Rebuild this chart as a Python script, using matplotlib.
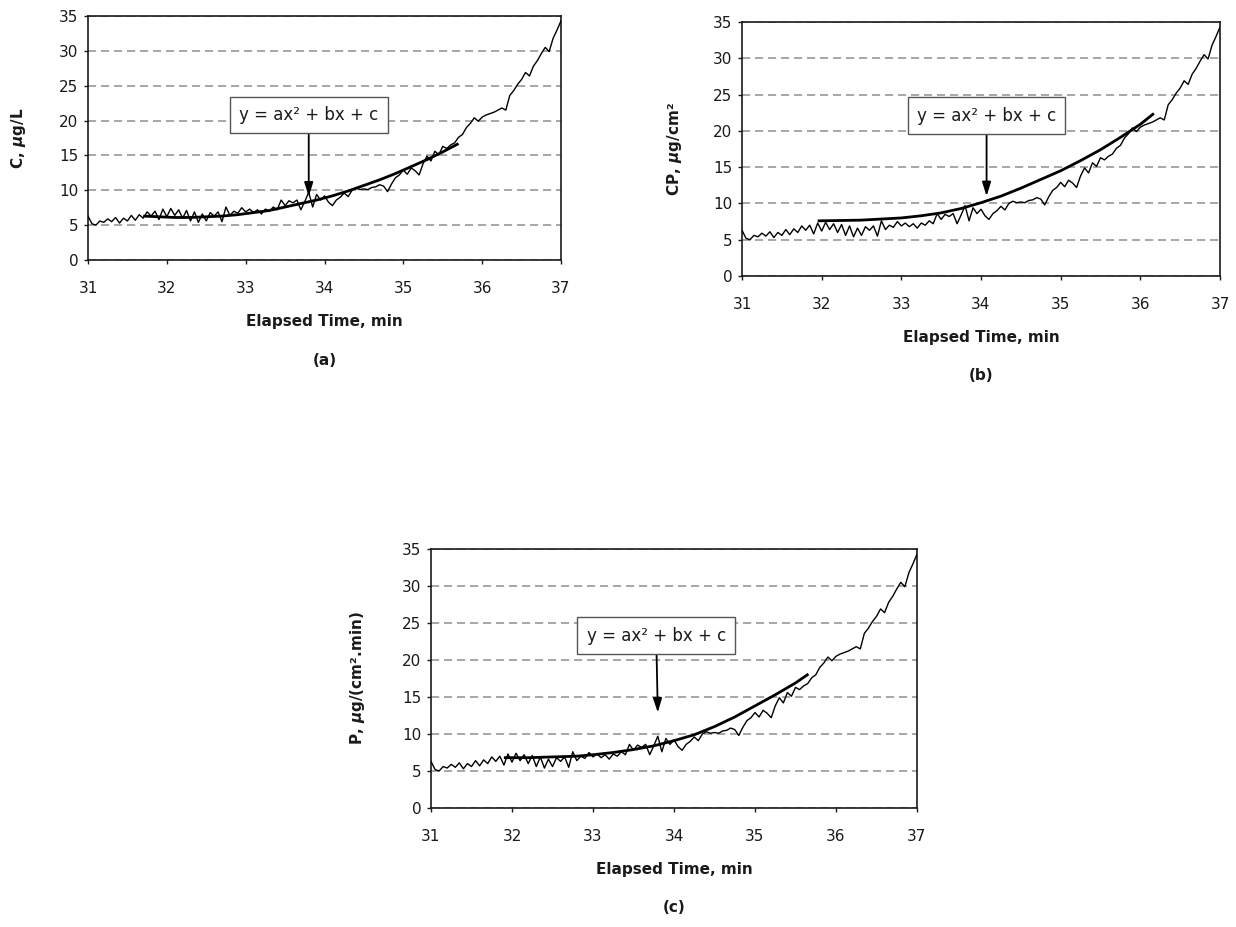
import numpy as np
import matplotlib
matplotlib.use("Agg")
from matplotlib import pyplot as plt

DPI = 100
W, H = 1236, 927

# elapsed time, min - the trace is sampled every 0.05 min
elapsed = np.linspace(31.0, 37.0, 121)

signal = [
    6.3, 5.2, 5.0, 5.6, 5.4, 5.9, 5.5, 6.1, 5.3, 6.0,             # 31.00-31.45
    5.6, 6.4, 5.7, 6.5, 6.0, 6.9, 6.3, 7.0, 5.8, 7.3,             # 31.50-31.95
    6.2, 7.4, 6.4, 7.2, 6.0, 7.1, 5.6, 6.9, 5.4, 6.6,             # 32.00-32.45
    5.6, 6.8, 6.3, 6.9, 5.5, 7.6, 6.4, 7.0, 6.7, 7.5,             # 32.50-32.95
    6.9, 7.3, 6.8, 7.2, 6.6, 7.3, 7.0, 7.6, 7.2, 8.6,             # 33.00-33.45
    7.8, 8.5, 8.2, 8.6, 7.2, 8.4, 9.7, 7.6, 9.4, 8.6,             # 33.50-33.95
    9.2, 8.3, 7.8, 8.6, 9.0, 9.6, 9.1, 10.0, 10.3, 10.1,          # 34.00-34.45
    10.2, 10.1, 10.4, 10.5, 10.8, 10.6, 9.8, 10.9, 11.8, 12.2,    # 34.50-34.95
    12.9, 12.3, 13.2, 12.8, 12.2, 13.8, 14.9, 14.2, 15.6, 15.1,   # 35.00-35.45
    16.3, 16.0, 16.5, 16.8, 17.6, 18.0, 19.0, 19.6, 20.4, 19.9,   # 35.50-35.95
    20.5, 20.8, 21.0, 21.2, 21.5, 21.8, 21.5, 23.6, 24.3, 25.2,   # 36.00-36.45
    25.9, 26.9, 26.4, 27.8, 28.6, 29.6, 30.5, 29.9, 31.8, 33.0,   # 36.50-36.95
    34.3,                                                         # 37.00
]

# quadratic trend lines
fit_a_t = [31.7, 31.9, 32.1, 32.3, 32.5, 32.7, 32.9, 33.1, 33.3, 33.5, 33.7,
           33.9, 34.1, 34.3, 34.5, 34.7, 34.9, 35.1, 35.3, 35.5, 35.7]
fit_a = [6.3, 6.2, 6.1, 6.1, 6.2, 6.3, 6.5, 6.8, 7.1, 7.6, 8.1,
         8.6, 9.2, 9.9, 10.7, 11.5, 12.4, 13.4, 14.4, 15.5, 16.7]

fit_b_t = [31.95, 32.25, 32.5, 32.75, 33.0, 33.25, 33.5, 33.75, 34.0,
           34.25, 34.5, 34.75, 35.0, 35.25, 35.5, 35.75, 36.0, 36.17]
fit_b = [7.6, 7.65, 7.7, 7.85, 8.0, 8.3, 8.7, 9.3, 10.1,
         11.0, 12.1, 13.3, 14.5, 15.9, 17.4, 19.1, 20.9, 22.4]

fit_c_t = [31.9, 32.2, 32.5, 32.8, 33.0, 33.25, 33.5, 33.75, 34.0,
           34.25, 34.5, 34.75, 35.0, 35.25, 35.5, 35.66]
fit_c = [6.8, 6.8, 6.9, 7.0, 7.2, 7.5, 7.9, 8.4, 9.1,
         9.9, 11.0, 12.3, 13.8, 15.3, 16.9, 18.1]

x_ticks = [31, 32, 33, 34, 35, 36, 37]
y_ticks = [0, 5, 10, 15, 20, 25, 30, 35]

x_label = "Elapsed Time, min"
y_labels = [
    "C, $\\boldsymbol{\\mu}$g/L",
    "CP, $\\boldsymbol{\\mu}$g/cm²",
    "P, $\\boldsymbol{\\mu}$g/(cm².min)",
]
panel_letters = ["(a)", "(b)", "(c)"]
equation = "y = ax² + bx + c"

plt.rcParams["font.family"] = ["DejaVu Sans"]
plt.rcParams["mathtext.fontset"] = "dejavusans"

fig = plt.figure(figsize=(W / DPI, H / DPI), dpi=DPI, facecolor="white")

# pixel boxes (left, top, right, bottom), y-label centre x, annotation tip / box centre
panels = [
    dict(box=(88, 16, 561, 260), ylab_x=20, fit=(fit_a_t, fit_a),
         tip=(33.80, 9.1), text_at=(33.80, 20.8)),
    dict(box=(742, 22, 1220, 276), ylab_x=676, fit=(fit_b_t, fit_b),
         tip=(34.07, 11.0), text_at=(34.07, 22.1)),
    dict(box=(431, 549, 917, 808), ylab_x=359, fit=(fit_c_t, fit_c),
         tip=(33.80, 12.9), text_at=(33.78, 23.3)),
]

INK = "#1a1a1a"

for p, ylab, letter in zip(panels, y_labels, panel_letters):
    left, top, right, bottom = p["box"]
    w_px, h_px = right - left, bottom - top
    ax = fig.add_axes([left / W, 1 - bottom / H, w_px / W, h_px / H])

    ax.plot(elapsed, signal, color="black", lw=1.0, solid_joinstyle="round",
            zorder=3)
    ft, fy = p["fit"]
    ax.plot(ft, fy, color="black", lw=2.0, solid_joinstyle="round",
            solid_capstyle="butt", zorder=4)

    ax.set_xlim(31, 37)
    ax.set_ylim(0, 35)
    ax.set_xticks(x_ticks)
    ax.set_yticks(y_ticks)

    ax.grid(axis="y", color="#a0a0a0", lw=1.3, linestyle=(0, (4.5, 2.7)))
    ax.set_axisbelow(True)

    for s in ax.spines.values():
        s.set_linewidth(1.2)
        s.set_color(INK)

    ax.tick_params(direction="out", length=3, width=1, colors=INK, labelsize=11)
    ax.tick_params(axis="x", pad=12)
    ax.tick_params(axis="y", pad=4)

    ax.set_xlabel(x_label, fontsize=11, fontweight="bold", color=INK)
    ax.xaxis.set_label_coords(0.5, -54 / h_px)
    ax.set_ylabel(ylab, fontsize=11, fontweight="bold", color=INK)
    ax.yaxis.set_label_coords((p["ylab_x"] + 8 - left) / w_px, 0.5)

    ax.text(0.5, -100 / h_px, letter, transform=ax.transAxes, ha="center",
            va="center", fontsize=11, fontweight="bold", color=INK)

    ax.annotate(
        equation, xy=p["tip"], xytext=p["text_at"], ha="center", va="center",
        fontsize=12, color=INK, zorder=6,
        bbox=dict(boxstyle="square,pad=0.55", fc="white", ec="#555555", lw=1),
        arrowprops=dict(arrowstyle="-|>,head_length=0.7,head_width=0.22",
                        color="black", lw=1.3, mutation_scale=12,
                        shrinkA=0, shrinkB=0),
    )

fig.savefig("out.png", dpi=DPI, facecolor="white")
